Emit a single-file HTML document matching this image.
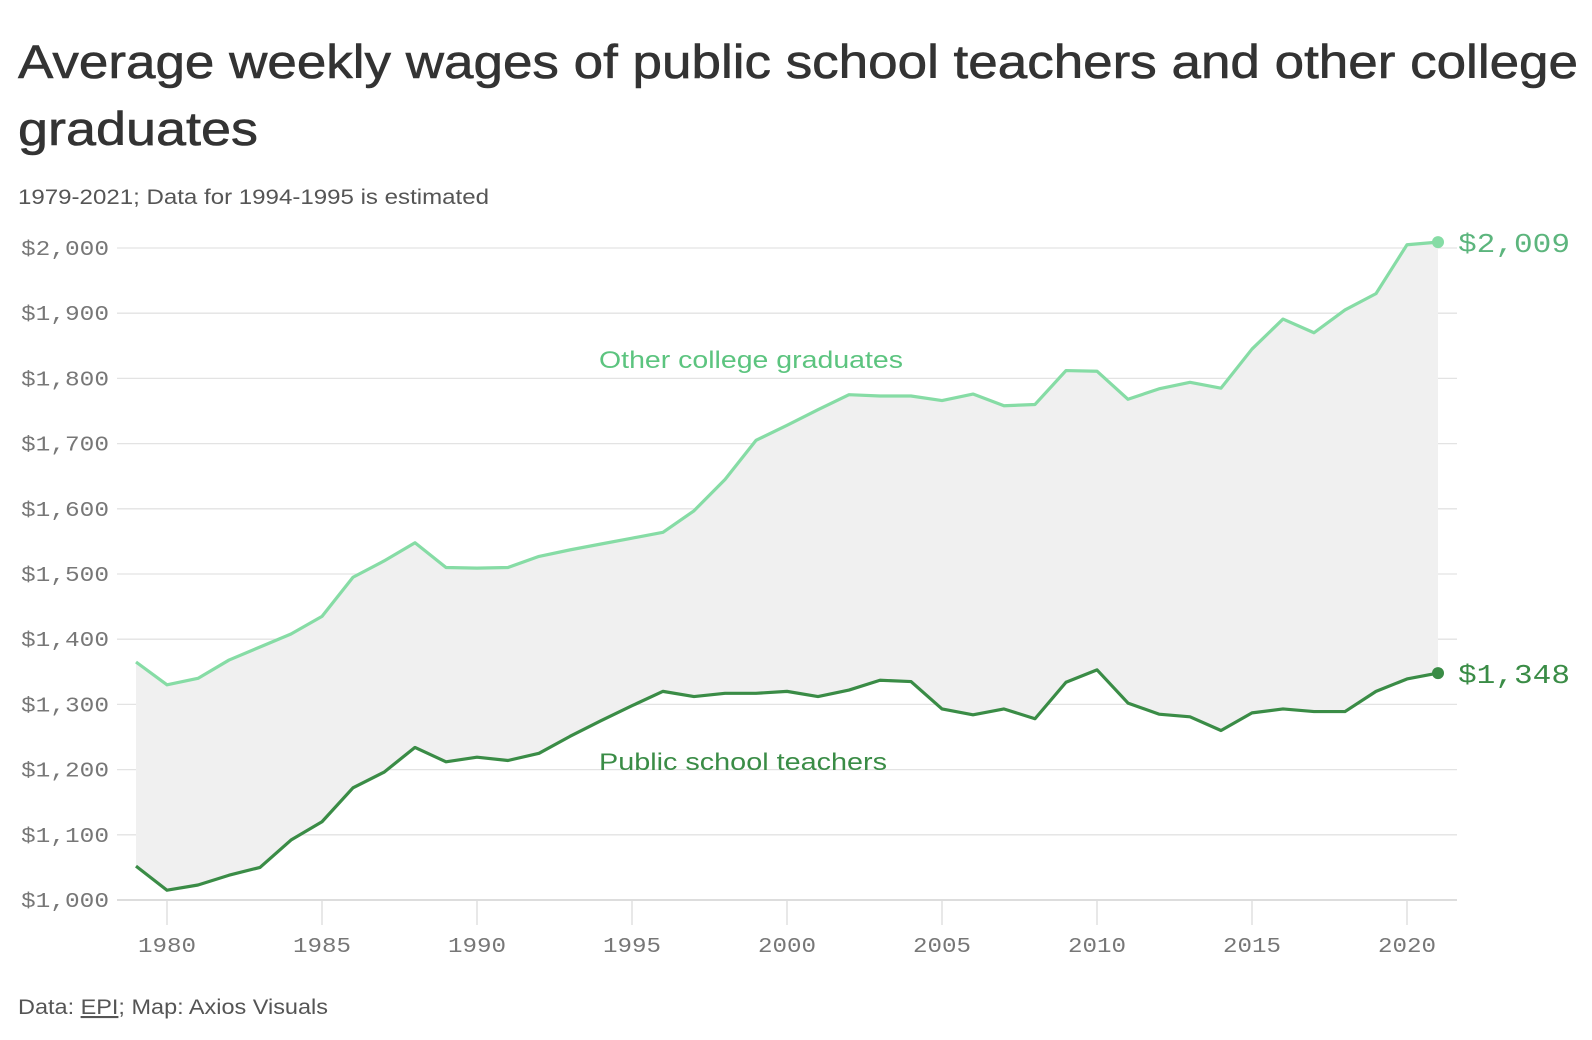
<!DOCTYPE html>
<html><head><meta charset="utf-8"><style>
html,body{margin:0;padding:0;background:#fff;}
svg{display:block;}
.t{font-family:"Liberation Sans",sans-serif;}
.m{font-family:"Liberation Mono",monospace;}
</style></head><body>
<svg id="c" width="1592" height="1040" xmlns="http://www.w3.org/2000/svg">
<text class="t" x="18" y="78" font-size="47" fill="#333" stroke="#333" stroke-width="0.6" textLength="1560" lengthAdjust="spacingAndGlyphs">Average weekly wages of public school teachers and other college</text>
<text class="t" x="18" y="145" font-size="47" fill="#333" stroke="#333" stroke-width="0.6" textLength="240" lengthAdjust="spacingAndGlyphs">graduates</text>
<text class="t" x="18" y="204" font-size="21" fill="#555" textLength="471" lengthAdjust="spacingAndGlyphs">1979-2021; Data for 1994-1995 is estimated</text>
<g id="g"></g>
<text class="t" x="18" y="1014" font-size="21" fill="#555" textLength="310" lengthAdjust="spacingAndGlyphs">Data: <tspan text-decoration="underline">EPI</tspan>; Map: Axios Visuals</text>
</svg>
<script>
var o=[1365,1330,1340,1368,1388,1408,1435,1495,1520,1548,1510,1509,1510,1527,1537,1546,1555,1564,1597,1645,1705,1728,1752,1775,1773,1773,1766,1776,1758,1760,1812,1811,1768,1784,1794,1785,1845,1891,1870,1905,1930,2005,2009];
var p=[1052,1015,1023,1038,1050,1092,1120,1172,1196,1234,1212,1219,1214,1225,1251,1275,1298,1320,1312,1317,1317,1320,1312,1322,1337,1335,1293,1284,1293,1278,1334,1353,1302,1285,1281,1260,1287,1293,1289,1289,1320,1339,1348];
function X(i){return 136+i*31;}
function Y(v){return 900-(v-1000)*0.652;}
var s='';
for(var v=1000;v<=2000;v+=100){var y=Y(v);
s+='<line x1="117" x2="1457" y1="'+y+'" y2="'+y+'" stroke="'+(v==1000?'#ddd':'#e3e3e3')+'" stroke-width="'+(v==1000?2:1.3)+'"/>';
s+='<text class="m" x="21" y="'+(y+7)+'" font-size="21" fill="#777" textLength="88" lengthAdjust="spacingAndGlyphs">$'+(v/1000|0)+','+String(v%1000).padStart(3,'0')+'</text>';}
for(var yr=1980;yr<=2020;yr+=5){var x=X(yr-1979);
s+='<line x1="'+x+'" x2="'+x+'" y1="901" y2="925" stroke="#e0e0e0" stroke-width="1.5"/>';
s+='<text class="m" x="'+x+'" y="952" font-size="21" fill="#777" text-anchor="middle" textLength="58" lengthAdjust="spacingAndGlyphs">'+yr+'</text>';}
var a='M'+X(0)+','+Y(o[0]);for(var i=1;i<o.length;i++)a+='L'+X(i)+','+Y(o[i]);
for(i=p.length-1;i>=0;i--)a+='L'+X(i)+','+Y(p[i]);a+='Z';
s+='<path d="'+a+'" fill="#f0f0f0"/>';
function line(d,c){var q='M'+X(0)+','+Y(d[0]);for(var i=1;i<d.length;i++)q+='L'+X(i)+','+Y(d[i]);return '<path d="'+q+'" fill="none" stroke="'+c+'" stroke-width="3.2" stroke-linejoin="round"/>';}
s+=line(o,'#86dca5')+line(p,'#3a8c46');
s+='<circle cx="'+X(42)+'" cy="'+Y(2009)+'" r="6" fill="#86dca5"/>';
s+='<circle cx="'+X(42)+'" cy="'+Y(1348)+'" r="6" fill="#3a8c46"/>';
s+='<text class="m" x="1458" y="'+(Y(2009)+10)+'" font-size="27" fill="#5cb57d" textLength="112" lengthAdjust="spacingAndGlyphs">$2,009</text>';
s+='<text class="m" x="1458" y="'+(Y(1348)+10)+'" font-size="27" fill="#3a8c46" textLength="112" lengthAdjust="spacingAndGlyphs">$1,348</text>';
s+='<text class="t" x="599" y="368" font-size="24" fill="#5cc47f" textLength="304" lengthAdjust="spacingAndGlyphs">Other college graduates</text>';
s+='<text class="t" x="599" y="770" font-size="24" fill="#3a8c46" textLength="288" lengthAdjust="spacingAndGlyphs">Public school teachers</text>';
document.getElementById('g').innerHTML=s;
</script>
</body></html>
